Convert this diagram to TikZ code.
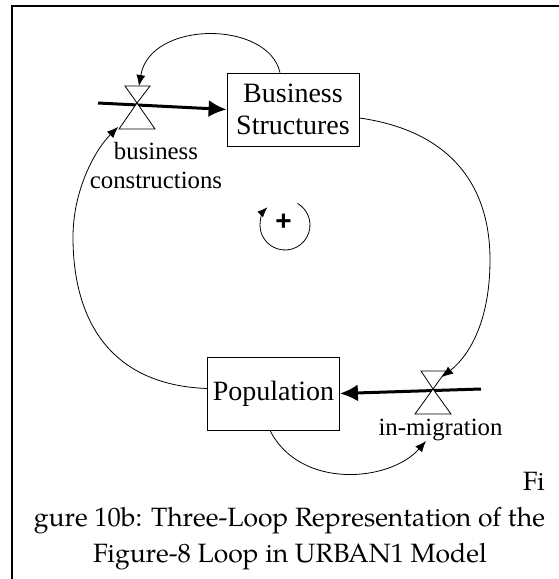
\documentclass[tikz,border=0pt]{standalone}
\usepackage{fontspec}
\setmainfont{Liberation Serif}
\setsansfont{Liberation Sans}
\newfontfamily\capfont{TeX Gyre Pagella}
\usetikzlibrary{arrows.meta,calc}
\begin{document}
\begin{tikzpicture}[x=1pt,y=-1pt,
  stock/.style={draw,line width=0.8pt,minimum width=132pt,minimum height=73pt,inner sep=0pt,align=center,font=\fontsize{28}{32}\selectfont},
  lbl/.style={align=center,inner sep=0pt,font=\fontsize{24.8}{29}\selectfont},
  captext/.style={inner sep=0pt,anchor=base,font=\capfont\fontsize{26.5}{36}\selectfont},
  pipe/.style={line width=3pt,-{Latex[length=18pt,width=17pt]}},
  link/.style={line width=0.8pt,-{Latex[length=11pt,width=9pt]}},
  valvetri/.style={draw,line width=0.8pt,fill=white}]
\useasboundingbox (0,0) rectangle (559,579);
% frame
\draw[line width=2pt] (12,579) -- (12,6) -- (559,6);
% stocks
\node[stock] (BS) at (293,109.5) {Business\\Structures};
\node[stock] (Pop) at (273.5,393.5) {Population};
% valves
\coordinate (V1) at (137,103);
\coordinate (V2) at (433,389);
\coordinate (P1) at (98,103);
\coordinate (P2) at (481,389);
\draw[pipe] (P1) -- (BS.west);
\draw[pipe] (P2) -- (Pop.east);
\draw[valvetri] (V1) -- ++(-12,-17) -- ++(25,0) -- cycle;
\draw[valvetri] (V1) -- ++(-18,26) -- ++(36,0) -- cycle;
\draw[valvetri] (V2) -- ++(-12,-18) -- ++(25,0) -- cycle;
\draw[valvetri] (V2) -- ++(-18,25) -- ++(36,0) -- cycle;
\node[lbl] (L1) at (156,165.5) {business\\constructions};
\node[lbl,anchor=base] (L2) at (440.5,435) {in-migration};
% link end points
\coordinate (V1top) at (139,86);
\coordinate (V1bot) at (118,127);
\coordinate (V2top) at (442,377);
\coordinate (V2bot) at (426,441);
% links
\draw[link] ($(BS.north)+(-13,0)$) .. controls (268,20) and (150,20) .. (V1top);
\draw[link] ($(BS.east)+(0,8.5)$) .. controls (445,130) and (490,180) .. (490,260) .. controls (490,320) and (470,355) .. (V2top);
\draw[link] ($(Pop.south)+(-3.5,0)$) .. controls (300,490) and (390,482) .. (V2bot);
\draw[link] ($(Pop.west)+(0,-5)$) .. controls (110,385) and (73,320) .. (73,237) .. controls (73,190) and (95,150) .. (V1bot);
% loop
\coordinate (LC) at (285,225);
\node[inner sep=0pt,font=\sffamily\bfseries\fontsize{28}{28}\selectfont] (plus) at (283.5,222.5) {+};
\draw[link,-{Latex[length=10pt,width=8pt]}] (LC) ++(-60:25) arc[start angle=-60,end angle=225,radius=25];
% caption
\node[captext,anchor=base east] (c1) at (545,490) {Fi};
\node[captext] (c2) at (289.5,526) {gure 10b: Three-Loop Representation of the};
\node[captext] (c3) at (290,562) {Figure-8 Loop in URBAN1 Model};
\end{tikzpicture}
\end{document}
